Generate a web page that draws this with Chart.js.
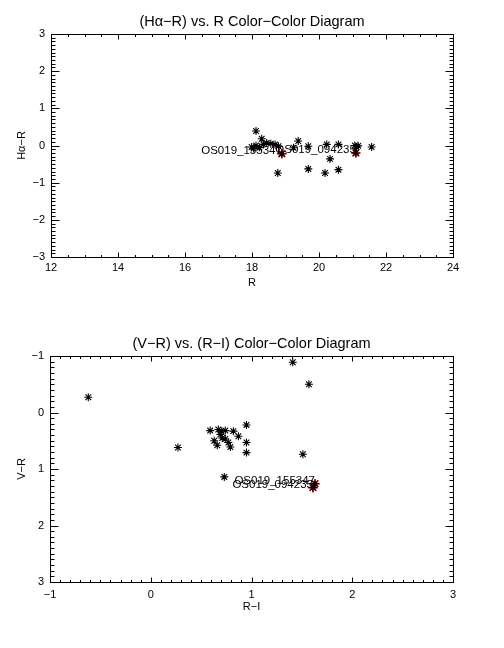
<!DOCTYPE html>
<html lang="en">
<head>
<meta charset="UTF-8">
<title>Color-Color Diagrams</title>
<script src="https://cdn.jsdelivr.net/npm/chart.js"></script>
<style>
  body { margin: 0; background: #fff; }
  canvas { position: absolute; left: 0; }
</style>
</head>
<body>
<canvas id="haChart" width="504" height="324" style="top:0"></canvas>
<canvas id="vrChart" width="504" height="324" style="top:324px"></canvas>
<script>
// upper panel: (Ha-R) against R
const rMag     = [18.12, 18.29, 17.99, 18.12, 18.34, 18.44, 18.56, 18.69, 18.79, 18.05, 18.22, 18.77,
                  19.24, 19.38, 19.68, 19.68, 20.18, 20.23, 20.33, 20.58, 20.58, 21.07, 21.12, 21.17, 21.57];
const haMinusR = [0.39, 0.18, -0.04, 0.00, 0.03, 0.07, 0.05, 0.03, -0.02, -0.08, -0.05, -0.74,
                  -0.06, 0.12, -0.02, -0.63, -0.74, 0.03, -0.36, -0.65, 0.03, 0.00, -0.04, -0.01, -0.04];

// lower panel: (V-R) against (R-I)
const rMinusI = [-0.62, 1.41, 1.57, 0.27, 0.59, 0.67, 0.70, 0.74, 0.69, 0.63, 0.66, 0.74,
                 0.77, 0.79, 0.82, 0.87, 0.95, 0.95, 0.95, 1.51, 0.73, 0.71];
const vMinusR = [-0.27, -0.89, -0.50, 0.62, 0.32, 0.30, 0.33, 0.32, 0.39, 0.50, 0.58, 0.47,
                 0.53, 0.61, 0.33, 0.42, 0.22, 0.53, 0.71, 0.74, 1.14, 0.45];

// the two marked stars
const starNames = ['OS019_155347', 'OS019_094235'];
const starR   = [18.89, 21.10];
const starHaR = [-0.22, -0.20];
const starRI  = [1.63, 1.61];
const starVR  = [1.26, 1.33];

// tick labels
const rTicks   = [12, 14, 16, 18, 20, 22, 24];
const haTicks  = [-3, -2, -1, 0, 1, 2, 3];
const riTicks  = [-1, 0, 1, 2, 3];
const vrTicks  = [-1, 0, 1, 2, 3];

const FONT = '"Liberation Sans", Arial, sans-serif';
const minus = v => (v < 0 ? '\u2212' + Math.abs(v) : String(v));
const pts = (xs, ys) => xs.map((v, i) => ({ x: v, y: ys[i] }));

// IDL style box: inward ticks on all four sides, title, star names
const idlFrame = {
  id: 'idlFrame',
  afterDraw(chart, args, o) {
    const { ctx, chartArea: a } = chart;
    const xs = chart.scales.x, ys = chart.scales.y;
    const L = Math.round(a.left) + 0.5, R = Math.round(a.right) + 0.5;
    const T = Math.round(a.top) + 0.5, B = Math.round(a.bottom) + 0.5;
    ctx.save();
    ctx.strokeStyle = '#000';
    ctx.lineWidth = 1;
    ctx.beginPath();
    ctx.rect(L, T, R - L, B - T);
    const marks = (scale, step, len, horiz) => {
      const n = Math.round((scale.max - scale.min) / step);
      for (let i = 0; i <= n; i++) {
        const p = Math.round(scale.getPixelForValue(scale.min + i * step)) + 0.5;
        if (horiz) {
          ctx.moveTo(p, B); ctx.lineTo(p, B - len);
          ctx.moveTo(p, T); ctx.lineTo(p, T + len);
        } else {
          ctx.moveTo(L, p); ctx.lineTo(L + len, p);
          ctx.moveTo(R, p); ctx.lineTo(R - len, p);
        }
      }
    };
    marks(xs, o.xMinor, 2.5, true);
    marks(xs, o.xMajor, 5, true);
    marks(ys, o.yMinor, 4, false);
    marks(ys, o.yMajor, 8, false);
    ctx.stroke();

    ctx.fillStyle = '#000';
    ctx.font = '14.5px ' + FONT;
    ctx.textAlign = 'center';
    ctx.textBaseline = 'middle';
    ctx.fillText(o.title, (a.left + a.right) / 2, a.top - 12);

    ctx.font = '11.5px ' + FONT;
    ctx.textAlign = 'right';
    ctx.textBaseline = 'alphabetic';
    o.names.forEach((name, i) => {
      ctx.fillText(name, xs.getPixelForValue(o.nx[i]), ys.getPixelForValue(o.ny[i]));
    });
    ctx.restore();
  }
};

function panel(id, p) {
  const tickFont = { family: FONT, size: 11 };
  return new Chart(document.getElementById(id), {
    type: 'scatter',
    data: {
      datasets: [
        {
          data: pts(p.xs.concat(p.sx), p.ys.concat(p.sy)),
          pointStyle: 'star', pointRadius: 4, borderWidth: 1.1,
          borderColor: '#000', backgroundColor: '#000'
        },
        {
          data: pts(p.sx, p.sy),
          pointStyle: 'star', pointRadius: 4.8, borderWidth: 1.6,
          borderColor: '#e5000a', backgroundColor: '#e5000a'
        }
      ]
    },
    options: {
      responsive: false,
      animation: false,
      devicePixelRatio: 1,
      layout: { padding: { left: 0, right: 504 - p.right, top: p.top, bottom: 0 } },
      plugins: {
        legend: { display: false },
        tooltip: { enabled: false },
        idlFrame: {
          title: p.title, names: starNames, nx: p.sx, ny: p.sy,
          xMajor: p.xMajor, xMinor: p.xMinor, yMajor: p.yMajor, yMinor: p.yMinor
        }
      },
      scales: {
        x: {
          type: 'linear', min: p.xTicks[0], max: p.xTicks[p.xTicks.length - 1],
          afterBuildTicks: s => { s.ticks = p.xTicks.map(v => ({ value: v })); },
          afterFit: s => { s.height = 324 - p.bottom; },
          grid: { display: false, drawTicks: false },
          border: { display: false },
          ticks: { padding: p.xPad, color: '#000', font: tickFont, maxRotation: 0, callback: minus },
          title: { display: true, text: p.xTitle, color: '#000', font: tickFont, padding: { top: 0, bottom: 34.4 } }
        },
        y: {
          type: 'linear', min: p.yTicks[0], max: p.yTicks[p.yTicks.length - 1], reverse: p.reverse,
          afterBuildTicks: s => { s.ticks = p.yTicks.map(v => ({ value: v })); },
          afterFit: s => { s.width = p.left; },
          grid: { display: false, drawTicks: false },
          border: { display: false },
          ticks: { padding: 6, color: '#000', font: tickFont, callback: minus },
          title: { display: true, text: p.yTitle, color: '#000', font: tickFont, padding: { top: 15.4, bottom: 0 } }
        }
      }
    },
    plugins: [idlFrame]
  });
}

panel('haChart', {
  title: '(H\u03b1\u2212R) vs. R Color\u2212Color Diagram',
  xTitle: 'R', yTitle: 'H\u03b1\u2212R',
  xs: rMag, ys: haMinusR, sx: starR, sy: starHaR,
  xTicks: rTicks, yTicks: haTicks, reverse: false,
  xMajor: 2, xMinor: 0.5, yMajor: 1, yMinor: 0.1,
  left: 51, right: 453, top: 34, bottom: 257, xPad: 4
});

panel('vrChart', {
  title: '(V\u2212R) vs. (R\u2212I) Color\u2212Color Diagram',
  xTitle: 'R\u2212I', yTitle: 'V\u2212R',
  xs: rMinusI, ys: vMinusR, sx: starRI, sy: starVR,
  xTicks: riTicks, yTicks: vrTicks, reverse: true,
  xMajor: 1, xMinor: 0.1, yMajor: 1, yMinor: 0.1,
  left: 50, right: 453, top: 32, bottom: 258, xPad: 6
});
</script>
</body>
</html>
